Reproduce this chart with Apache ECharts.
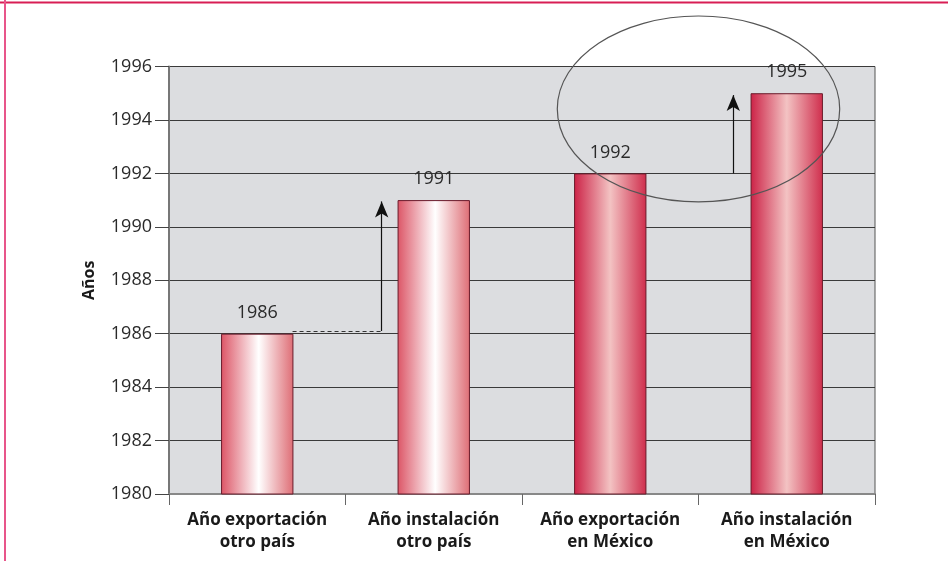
<!DOCTYPE html>
<html>
<head>
<meta charset="utf-8">
<script src="https://cdn.jsdelivr.net/npm/echarts@6/dist/echarts.min.js"></script>
<style>
  html, body { margin: 0; padding: 0; background: #fff; }
  #chart { width: 948px; height: 561px; }
</style>
</head>
<body>
<div id="chart"></div>
<script>
// data
const categories = ['Año exportación\notro país', 'Año instalación\notro país', 'Año exportación\nen México', 'Año instalación\nen México']
const years = [1986, 1991, 1992, 1995]
const yMin = 1980
const yMax = 1996
const yStep = 2

// annotations (x in category units 0..4, y in years)
const dashedLink = [[0.70, 1986.1], [1.205, 1986.1]]
const arrowOtro = [[1.205, 1986.1], [1.205, 1990.95]]
const arrowMexico = [[3.197, 1992], [3.197, 1994.93]]
const ellipseMark = [[3.0, 1994.41, 0.80, 3.48]] // cx, cy, rx, ry

const lightGrad = new echarts.graphic.LinearGradient(0, 0, 1, 0, [
  { offset: 0, color: '#dc5566' },
  { offset: 0.52, color: '#ffffff' },
  { offset: 1, color: '#de6d75' }
])
const darkGrad = new echarts.graphic.LinearGradient(0, 0, 1, 0, [
  { offset: 0, color: '#cc2246' },
  { offset: 0.5, color: '#f3c3c3' },
  { offset: 1, color: '#cf2d4c' }
])

const chart = echarts.init(document.getElementById('chart'))

chart.setOption({
  animation: false,
  textStyle: { fontFamily: 'Open Sans' },
  graphic: [
    { type: 'line', shape: { x1: 0, y1: 2.5, x2: 948, y2: 2.5 }, style: { stroke: '#d81e55', lineWidth: 2 } },
    { type: 'line', shape: { x1: 5, y1: 0, x2: 5, y2: 561 }, style: { stroke: '#e8558a', lineWidth: 2 } }
  ],
  grid: {
    left: 169,
    right: 73,
    top: 66.5,
    bottom: 67,
    show: true,
    backgroundColor: '#dcdde0',
    borderColor: '#555',
    borderWidth: 1
  },
  xAxis: [{
    type: 'category',
    data: categories,
    axisLine: { lineStyle: { color: '#888', width: 2 } },
    axisTick: { show: true, interval: 0, length: 11, lineStyle: { color: '#666' } },
    axisLabel: {
      interval: 0,
      margin: 15,
      color: '#1a1a1a',
      fontSize: 17,
      fontWeight: 'bold',
      lineHeight: 22,
      fontFamily: 'Open Sans',
      hideOverlap: false
    }
  }, {
    type: 'value',
    min: 0,
    max: 4,
    show: false
  }],
  yAxis: {
    type: 'value',
    min: yMin,
    max: yMax,
    interval: yStep,
    name: 'Años',
    nameLocation: 'middle',
    nameGap: 72,
    nameTextStyle: { color: '#1a1a1a', fontSize: 16, fontWeight: 'bold', fontFamily: 'Open Sans' },
    axisLine: { show: true, lineStyle: { color: '#777', width: 2 } },
    axisTick: { show: true, length: 14, lineStyle: { color: '#444' } },
    axisLabel: {
      color: '#2a2a2a',
      fontSize: 18,
      margin: 17,
      fontFamily: 'Open Sans',
      formatter: v => String(v)
    },
    splitLine: { show: true, lineStyle: { color: '#3a3a3a', width: 1 } }
  },
  series: [{
    type: 'bar',
    xAxisIndex: 0,
    barWidth: '41%',
    data: years.map((v, i) => ({
      value: v,
      itemStyle: { color: i < 2 ? lightGrad : darkGrad }
    })),
    itemStyle: { borderColor: '#6a1a2a', borderWidth: 1 },
    label: {
      show: true,
      position: 'top',
      distance: 12,
      color: '#2a2a2a',
      fontSize: 18,
      fontFamily: 'Open Sans'
    },
    z: 3
  }, {
    type: 'custom',
    xAxisIndex: 1,
    data: ellipseMark,
    silent: true,
    clip: false,
    z: 5,
    renderItem: function (params, api) {
      const c = api.coord([api.value(0), api.value(1)])
      const e = api.coord([api.value(0) + api.value(2), api.value(1) + api.value(3)])
      return {
        type: 'ellipse',
        shape: { cx: c[0], cy: c[1], rx: Math.abs(e[0] - c[0]), ry: Math.abs(c[1] - e[1]) },
        style: { fill: 'none', stroke: '#555', lineWidth: 1.2 }
      }
    },
    markLine: {
      silent: true,
      animation: false,
      symbol: ['none', 'arrow'],
      symbolSize: [10, 16],
      label: { show: false },
      lineStyle: { color: '#111', width: 1.2, type: 'solid' },
      data: [
        [
          { coord: dashedLink[0], symbol: 'none', lineStyle: { type: [4, 3], color: '#333', width: 1.2 } },
          { coord: dashedLink[1], symbol: 'none' }
        ],
        [{ coord: arrowOtro[0] }, { coord: arrowOtro[1] }],
        [{ coord: arrowMexico[0] }, { coord: arrowMexico[1] }]
      ]
    }
  }]
})
</script>
</body>
</html>
